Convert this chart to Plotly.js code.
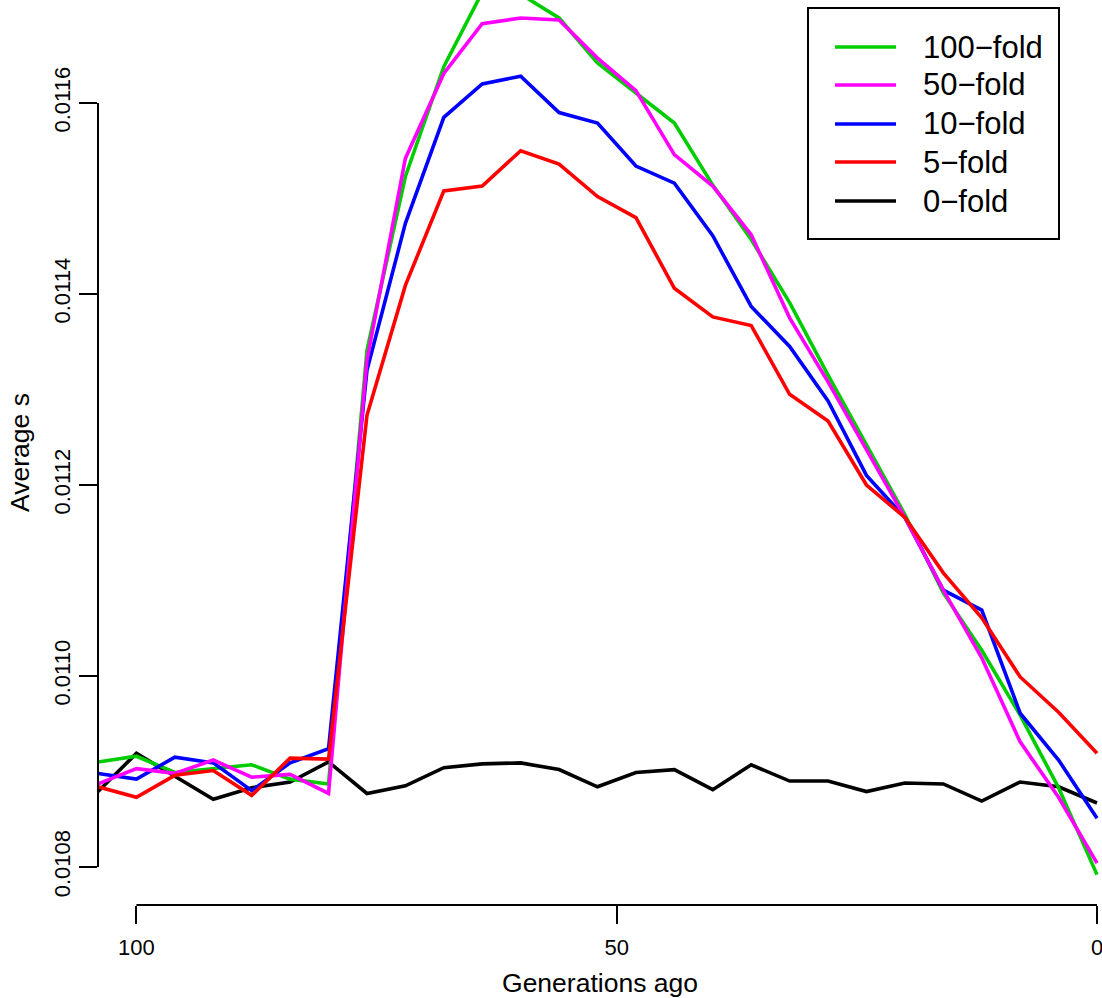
<!DOCTYPE html>
<html>
<head>
<meta charset="utf-8">
<script src="https://cdn.plot.ly/plotly-3.0.1.min.js"></script>
<style>html,body{margin:0;padding:0;background:#fff;}#chart{width:1102px;height:998px;}</style>
</head>
<body>
<div id="chart"></div>
<script>
// ---- data ----
const generations = [104,100,96,92,88,84,80,76,72,68,64,60,56,52,48,44,40,36,32,28,24,20,16,12,8,4,0];

const fold100 = [0.010910,0.010916,0.010899,0.010903,0.010907,0.010892,0.010887,0.011341,0.011523,0.011638,0.011716,0.011714,0.011689,0.011642,0.011610,0.011579,0.011514,0.011457,0.011391,0.011315,0.011242,0.011169,0.011087,0.011027,0.010959,0.010883,0.010792];
const fold50  = [0.010887,0.010903,0.010898,0.010912,0.010894,0.010897,0.010877,0.011331,0.011542,0.011631,0.011683,0.011689,0.011687,0.011647,0.011613,0.011546,0.011513,0.011462,0.011375,0.011308,0.011237,0.011166,0.011090,0.011019,0.010931,0.010873,0.010804];
const fold10  = [0.010898,0.010892,0.010915,0.010909,0.010880,0.010909,0.010924,0.011320,0.011474,0.011585,0.011620,0.011628,0.011590,0.011579,0.011534,0.011516,0.011461,0.011387,0.011345,0.011288,0.011210,0.011166,0.011090,0.011069,0.010961,0.010912,0.010851];
const fold5   = [0.010884,0.010873,0.010896,0.010901,0.010875,0.010914,0.010913,0.011273,0.011409,0.011508,0.011513,0.011550,0.011536,0.011502,0.011480,0.011406,0.011376,0.011367,0.011295,0.011267,0.011200,0.011166,0.011108,0.011061,0.010999,0.010962,0.010919];
const fold0   = [0.010879,0.010919,0.010895,0.010871,0.010883,0.010889,0.010910,0.010877,0.010885,0.010904,0.010908,0.010909,0.010902,0.010884,0.010899,0.010902,0.010881,0.010907,0.010890,0.010890,0.010879,0.010888,0.010887,0.010869,0.010889,0.010884,0.010867];

const seriesNames  = ["100\u2212fold","50\u2212fold","10\u2212fold","5\u2212fold","0\u2212fold"];
const seriesValues = [fold100, fold50, fold10, fold5, fold0];
const seriesColors = ["#00CD00","#FF00FF","#0000FF","#FF0000","#000000"];

const xTickVals = [100,50,0];
const xTickText = ["100","50","0"];
const yTickVals = [0.0108,0.0110,0.0112,0.0114,0.0116];
const yTickText = ["0.0108","0.0110","0.0112","0.0114","0.0116"];

// ---- layout helpers (pixel -> paper) ----
const W = 1102, H = 998;
const M = {l:98, r:0, t:0, b:93};
const PW = W - M.l - M.r, PH = H - M.t - M.b;
const px = x => (x - M.l) / PW;
const py = y => (M.t + PH - y) / PH;

const FONT = "Liberation Sans, Arial, Helvetica, sans-serif";

// draw order: black first, then green, blue, magenta, red on top
const drawOrder = [4,0,2,1,3];
const traces = drawOrder.map(i => ({
  type: "scatter",
  mode: "lines",
  x: generations,
  y: seriesValues[i],
  name: seriesNames[i],
  line: {color: seriesColors[i], width: 3.6},
  showlegend: false,
  hoverinfo: "skip"
}));

// legend drawn as shapes + annotations (R-style box legend)
const legendRowsY = [47,85,124,162,201];
const shapes = [
  {type:"line", xref:"paper", yref:"y", x0:0, x1:0, y0:yTickVals[0], y1:yTickVals[yTickVals.length-1], line:{color:"#000", width:2}},
  {type:"line", xref:"x", yref:"paper", x0:xTickVals[0], x1:xTickVals[xTickVals.length-1], y0:0, y1:0, line:{color:"#000", width:2}},
  {type:"rect", xref:"paper", yref:"paper", x0:px(808), x1:px(1059), y0:py(239), y1:py(8), line:{color:"#000", width:2}, fillcolor:"#fff", layer:"above"}
];
const annotations = [];
seriesNames.forEach((nm, i) => {
  const yy = py(legendRowsY[i]);
  shapes.push({type:"line", xref:"paper", yref:"paper", x0:px(835), x1:px(896), y0:yy, y1:yy, line:{color:seriesColors[i], width:3.6}, layer:"above"});
  annotations.push({xref:"paper", yref:"paper", x:px(921), y:yy, xanchor:"left", yanchor:"middle", text:nm, showarrow:false, font:{family:FONT, size:31, color:"#000"}});
});

const layout = {
  width: W, height: H,
  margin: M,
  paper_bgcolor: "#fff", plot_bgcolor: "#fff",
  font: {family: FONT, color: "#000"},
  showlegend: false,
  xaxis: {
    range: [104, -0.52],
    tickmode: "array", tickvals: xTickVals, ticktext: xTickText,
    ticks: "outside", ticklen: 18, tickwidth: 2, tickcolor: "#000",
    ticklabelstandoff: 5,
    ticklabeloverflow: "allow",
    tickfont: {family: FONT, size: 22, color: "#000"},
    showgrid: false, zeroline: false, showline: false,
    title: {text: "Generations ago", font: {family: FONT, size: 26.5, color: "#000"}, standoff: 18},
    automargin: false
  },
  yaxis: {
    range: [0.01076021, 0.01170785],
    tickmode: "array", tickvals: yTickVals, ticktext: yTickText,
    ticks: "outside", ticklen: 18, tickwidth: 2, tickcolor: "#000",
    tickangle: -90,
    tickfont: {family: FONT, size: 22, color: "#000"},
    showgrid: false, zeroline: false, showline: false,
    title: {text: "Average s", font: {family: FONT, size: 26.5, color: "#000"}, standoff: 12},
    automargin: false
  },
  shapes: shapes,
  annotations: annotations
};

Plotly.newPlot("chart", traces, layout, {staticPlot: true, displayModeBar: false});
</script>
</body>
</html>
